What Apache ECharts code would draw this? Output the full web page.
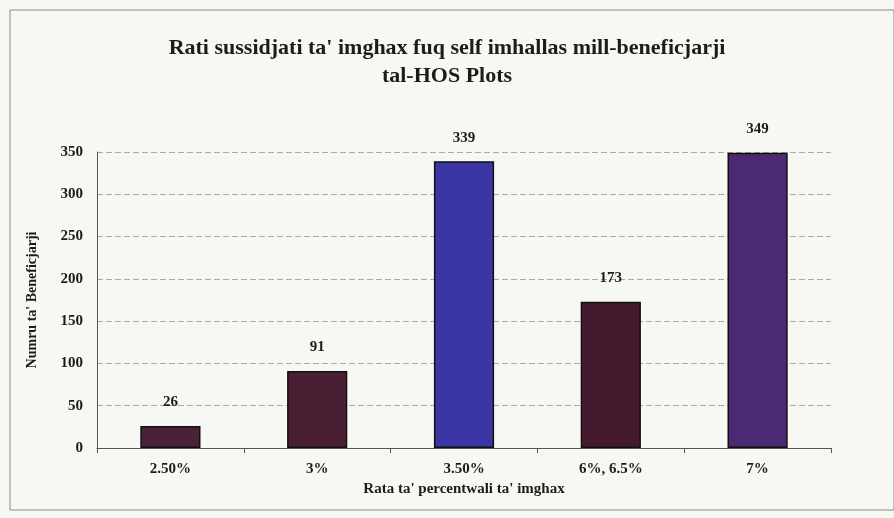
<!DOCTYPE html>
<html>
<head>
<meta charset="utf-8">
<script src="https://cdn.jsdelivr.net/npm/echarts@6/dist/echarts.min.js"></script>
<style>
  html, body { margin: 0; padding: 0; background: #f4f4f1; }
  #chart { width: 894px; height: 518px; }
</style>
</head>
<body>
<div id="chart"></div>
<script>
// rates on the x axis and number of beneficiaries
const categories = ['2.50%', '3%', '3.50%', '6%, 6.5%', '7%'];
const counts = [26, 91, 339, 173, 349];
const barColors = ['#4a2138', '#4a1f33', '#3b36a3', '#451a2e', '#4a2b73'];
const yTicks = { min: 0, max: 350, step: 50 };

const font = '"Liberation Serif", "DejaVu Serif", serif';
const ink = '#1c1c1c';

const chart = echarts.init(document.getElementById('chart'));
chart.setOption({
  backgroundColor: '#f7f7f4',
  animation: false,
  graphic: [{
    type: 'rect',
    shape: { x: 10, y: 10, width: 884, height: 500 },
    style: { fill: 'none', stroke: '#8a8a8a', lineWidth: 1 },
    silent: true
  }],
  title: {
    text: "Rati sussidjati ta' imghax fuq self imhallas mill-beneficjarji\ntal-HOS Plots",
    left: 'center',
    top: 29,
    textStyle: {
      fontFamily: font,
      fontWeight: 'bold',
      fontSize: 22,
      lineHeight: 28,
      color: ink
    }
  },
  grid: { left: 97, right: 63, top: 152, bottom: 70 },
  xAxis: {
    type: 'category',
    data: categories,
    name: "Rata ta' percentwali ta' imghax",
    nameLocation: 'middle',
    nameGap: 34,
    nameTextStyle: { fontFamily: font, fontWeight: 'bold', fontSize: 15, color: ink },
    axisLine: { lineStyle: { color: '#555', width: 1 } },
    axisTick: { show: true, alignWithLabel: false, length: 5, lineStyle: { color: '#555' } },
    axisLabel: { fontFamily: font, fontWeight: 'bold', fontSize: 15, color: ink, margin: 14 }
  },
  yAxis: {
    type: 'value',
    min: yTicks.min,
    max: yTicks.max,
    interval: yTicks.step,
    name: "Numru ta' Beneficjarji",
    nameLocation: 'middle',
    nameGap: 58,
    nameTextStyle: { fontFamily: font, fontWeight: 'bold', fontSize: 14, color: ink },
    axisLine: { show: true, lineStyle: { color: '#555', width: 1 } },
    axisTick: { show: false },
    axisLabel: { fontFamily: font, fontWeight: 'bold', fontSize: 15, color: ink, margin: 14 },
    splitLine: { lineStyle: { color: '#a9a9a9', type: [6, 3], width: 1 } }
  },
  series: [{
    type: 'bar',
    barWidth: '41%',
    data: counts.map((v, i) => ({
      value: v,
      itemStyle: { color: barColors[i] }
    })),
    itemStyle: { borderColor: '#111', borderWidth: 1.5 },
    label: {
      show: true,
      position: 'top',
      distance: 16,
      fontFamily: font,
      fontWeight: 'bold',
      fontSize: 15,
      color: ink
    }
  }]
});
</script>
</body>
</html>
